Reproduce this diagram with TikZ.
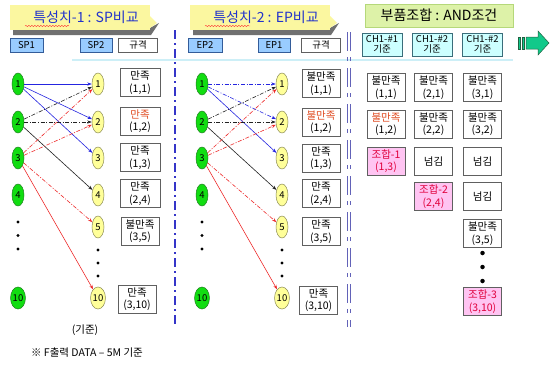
\documentclass[tikz,border=0pt]{standalone}
\usepackage{fontspec}
\setmainfont{Noto Sans CJK KR}
\usetikzlibrary{shapes.geometric,arrows.meta,decorations.pathmorphing}
\definecolor{hdrblue}{HTML}{2233CC}
\definecolor{ylw}{HTML}{FBF7A0}
\definecolor{shgray}{HTML}{707070}
\definecolor{grnhdr}{HTML}{DDF2A8}
\definecolor{grnhdrb}{HTML}{B5D87A}
\definecolor{spblue}{HTML}{99CCFF}
\definecolor{spborder}{HTML}{335C99}
\definecolor{chcyan}{HTML}{CCFFFF}
\definecolor{chborder}{HTML}{3A6D7A}
\definecolor{cyline}{HTML}{CDEFF7}
\definecolor{sepA}{HTML}{3535C8}
\definecolor{sepB}{HTML}{6262B8}
\definecolor{gfill}{HTML}{11DD11}
\definecolor{gborder}{HTML}{1F7F1F}
\definecolor{yfill}{HTML}{FFFF99}
\definecolor{yborder}{HTML}{8A8A55}
\definecolor{abl}{HTML}{2525E0}
\definecolor{abk}{HTML}{222222}
\definecolor{ard}{HTML}{EE2A2A}
\definecolor{redtxt}{HTML}{E04A20}
\definecolor{pinkf}{HTML}{FFC4F2}
\definecolor{pinkt}{HTML}{E0003C}
\definecolor{arrowg}{HTML}{11C98A}
\definecolor{arrowgb}{HTML}{206040}
\begin{document}
\begin{tikzpicture}[x=1pt,y=-1pt,
  res/.style={draw=gray!75!black, fill=white, line width=0.7pt, align=center,
    inner sep=0pt, minimum width=38pt, minimum height=28pt, font=\fontsize{10.5}{12.5}\selectfont},
  pinkbox/.style={res, fill=pinkf, text=pinkt},
  hbox/.style={draw=spborder, fill=spblue, line width=0.6pt, inner sep=0pt,
    minimum height=14pt, font=\fontsize{9.5}{10}\selectfont},
  gbox/.style={draw=gray!75!black, fill=white, line width=0.6pt, inner sep=0pt,
    minimum height=14pt, minimum width=39pt, font=\fontsize{9.5}{10}\selectfont},
  chbox/.style={draw=chborder, fill=chcyan, line width=0.6pt, inner sep=0pt, align=center,
    minimum width=40pt, minimum height=23pt, font=\fontsize{9.5}{10.5}\selectfont},
  gell/.style={ellipse, draw=gborder, fill=gfill, line width=0.5pt, minimum width=12pt,
    minimum height=22pt, inner sep=0pt, font=\fontsize{9.5}{10}\selectfont},
  yell/.style={ellipse, draw=yborder, fill=yfill, line width=0.5pt, minimum width=12pt,
    minimum height=22pt, inner sep=0pt, font=\fontsize{9.5}{10}\selectfont},
  arr/.style={-{Stealth[length=4.5pt,width=3.2pt]}, line width=0.6pt},
  dd/.style={dash pattern=on 4pt off 1.6pt on 1pt off 1.6pt},
  vdot/.style={circle, fill=black, inner sep=0pt, minimum size=3.2pt},
  hdrtext/.style={font=\fontsize{14}{16}\selectfont},
  wavy/.style={draw=red!80, line width=0.4pt, decorate,
    decoration={snake, amplitude=0.7pt, segment length=3pt}}
]
\useasboundingbox (0,0) rectangle (551,365);
\fill[white] (0,0) rectangle (551,365);

% ---- header callouts ----
\foreach \dx in {0,180}{
  \begin{scope}[xshift=\dx]
    \fill[shgray] (13,29) -- (148,29) -- (159,23) -- (151,35) -- (13,35) -- cycle;
    \fill[ylw] (10,5) rectangle (150,30);
    \fill[ylw] (150,16) -- (157,23) -- (150,28) -- cycle;
  \end{scope}
}
\node[hdrtext, text=hdrblue] (h1) at (86,17.5) {특성치-1 : SP비교};
\node[hdrtext, text=hdrblue] (h2) at (266,17.5) {특성치-2 : EP비교};
\draw[wavy] (25,26) -- (69,26);
\draw[wavy] (205,26) -- (250,26);

\node[draw=grnhdrb, fill=grnhdr, line width=0.6pt, minimum width=148pt, minimum height=23pt,
  inner sep=0pt, hdrtext] (h3) at (439,15.5) {부품조합 : AND조건};

% ---- column headers ----
\node[hbox, minimum width=33pt] (sp1) at (26.5,45) {SP1};
\node[hbox, minimum width=32pt] (sp2) at (96,45) {SP2};
\node[gbox] (gk1) at (138,45) {규격};
\node[hbox, minimum width=34pt] (ep2) at (205,45) {EP2};
\node[hbox, minimum width=32pt] (ep1) at (274,45) {EP1};
\node[gbox] (gk2) at (321,45) {규격};
\node[chbox] (ch1) at (382,44.5) {CH1-\#1\\기준};
\node[chbox] (ch2) at (432,44.5) {CH1-\#2\\기준};
\node[chbox] (ch3) at (482.5,44.5) {CH1-\#2\\기준};

% green block arrow
\fill[arrowg, draw=arrowgb, line width=0.5pt] (518,37) rectangle (520,49);
\fill[arrowg, draw=arrowgb, line width=0.5pt] (522,37) rectangle (524,49);
\fill[arrowg, draw=arrowgb, line width=0.5pt]
  (526,37) -- (538,37) -- (538,31) -- (549,43) -- (538,55) -- (538,49) -- (526,49) -- cycle;

% cyan rule
\draw[cyline, line width=2pt] (72,60) -- (513,60);

% separators
\draw[sepA, line width=2.3pt, dash pattern=on 9pt off 4pt on 2pt off 4pt] (175,30) -- (175,327);
\draw[sepB, line width=1.3pt, dash pattern=on 19pt off 6pt on 4pt off 7pt] (347.3,32) -- (347.3,327);
\draw[sepB, line width=1.3pt, dash pattern=on 19pt off 6pt on 4pt off 7pt] (350.7,32) -- (350.7,327);

% ---- left section ----
\node[gell] (g1) at (18,84) {1};
\node[gell] (g2) at (18,122) {2};
\node[gell] (g3) at (18,158) {3};
\node[gell] (g4) at (18,195) {4};
\node[gell] (g10) at (18,298) {10};
\node[vdot] (gd1) at (18,222) {};
\node[vdot] (gd2) at (18,235.5) {};
\node[vdot] (gd3) at (18,249) {};

\node[yell] (y1) at (98,84) {1};
\node[yell] (y2) at (98,122) {2};
\node[yell] (y3) at (98,158) {3};
\node[yell] (y4) at (98,195) {4};
\node[yell] (y5) at (98,227) {5};
\node[yell] (y10) at (98,298) {10};
\node[vdot] (yd1) at (98,250) {};
\node[vdot] (yd2) at (98,263) {};
\node[vdot] (yd3) at (98,276) {};

\draw[arr, abl] (g1) -- (y1);
\draw[arr, abl] (g1) -- (y2);
\draw[arr, abl] (g1) -- (y3);
\draw[arr, abk, dd] (g2) -- (y1);
\draw[arr, abk, dd] (g2) -- (y2);
\draw[arr, abk] (g2) -- (y4);
\draw[arr, ard, dd] (g3) -- (y1);
\draw[arr, ard, dd] (g3) -- (y2);
\draw[arr, ard, dd] (g3) -- (y5);
\draw[arr, ard] (g3) -- (y10);

\node[res, minimum width=40pt] (l1) at (140,82.5) {만족\\(1,1)};
\node[res, minimum width=40pt] (l2) at (140,121) {{\color{redtxt}만족}\\(1,2)};
\node[res, minimum width=40pt] (l3) at (140,157.5) {만족\\(1,3)};
\node[res, minimum width=40pt] (l4) at (140,193.5) {만족\\(2,4)};
\node[res, minimum width=38pt] (l5) at (140,231) {불만족\\(3,5)};
\node[res, minimum width=38pt] (l6) at (137,299) {만족\\(3,10)};

\node[font=\fontsize{10.5}{12}\selectfont] (kj) at (85,330) {(기준)};
\node[font=\fontsize{10.5}{12}\selectfont] (note) at (87,353) {※ F출력 DATA – 5M 기준};

% ---- middle section ----
\node[gell] (mg1) at (202,84) {1};
\node[gell] (mg2) at (202,122) {2};
\node[gell] (mg3) at (202,158) {3};
\node[gell] (mg4) at (202,195) {4};
\node[gell] (mg10) at (202,298) {10};
\node[vdot] (mgd1) at (202,222) {};
\node[vdot] (mgd2) at (202,235.5) {};
\node[vdot] (mgd3) at (202,249) {};

\node[yell] (my1) at (282,84) {1};
\node[yell] (my2) at (282,122) {2};
\node[yell] (my3) at (282,158) {3};
\node[yell] (my4) at (282,195) {4};
\node[yell] (my5) at (282,227) {5};
\node[yell] (my10) at (282,298) {10};
\node[vdot] (myd1) at (282,250) {};
\node[vdot] (myd2) at (282,263) {};
\node[vdot] (myd3) at (282,276) {};

\draw[arr, abl, dd] (mg1) -- (my1);
\draw[arr, abl, dd] (mg1) -- (my2);
\draw[arr, abl] (mg1) -- (my3);
\draw[arr, abk, dd] (mg2) -- (my1);
\draw[arr, abk, dd] (mg2) -- (my2);
\draw[arr, abk] (mg2) -- (my4);
\draw[arr, ard, dd] (mg3) -- (my1);
\draw[arr, ard, dd] (mg3) -- (my2);
\draw[arr, ard, dd] (mg3) -- (my5);
\draw[arr, ard] (mg3) -- (my10);

\node[res] (m1) at (321,83.5) {불만족\\(1,1)};
\node[res] (m2) at (321,122) {{\color{redtxt}불만족}\\(1,2)};
\node[res] (m3) at (321,158) {만족\\(1,3)};
\node[res] (m4) at (321,193.5) {만족\\(2,4)};
\node[res] (m5) at (321,231.5) {만족\\(3,5)};
\node[res] (m6) at (318.5,300) {만족\\(3,10)};

% ---- right section ----
\node[res] (r11) at (386,87.5) {불만족\\(1,1)};
\node[res] (r21) at (433.5,87.5) {불만족\\(2,1)};
\node[res] (r31) at (482.5,87.5) {불만족\\(3,1)};
\node[res] (r12) at (386,124) {{\color{redtxt}불만족}\\(1,2)};
\node[res] (r22) at (433.5,124) {불만족\\(2,2)};
\node[res] (r32) at (482.5,124) {불만족\\(3,2)};
\node[pinkbox] (r13) at (386,161) {조합-1\\(1,3)};
\node[res] (r23) at (433.5,161) {넘김};
\node[res] (r33) at (482.5,161) {넘김};
\node[pinkbox] (r24) at (433.5,196.5) {조합-2\\(2,4)};
\node[res] (r34) at (482.5,196.5) {넘김};
\node[res] (r35) at (482.5,233.5) {불만족\\(3,5)};
\node[vdot, minimum size=4.5pt] (rd1) at (482.5,253) {};
\node[vdot, minimum size=4.5pt] (rd2) at (482.5,267) {};
\node[vdot, minimum size=4.5pt] (rd3) at (482.5,281) {};
\node[pinkbox] (r310) at (482.5,301.5) {조합-3\\(3,10)};
\end{tikzpicture}
\end{document}
